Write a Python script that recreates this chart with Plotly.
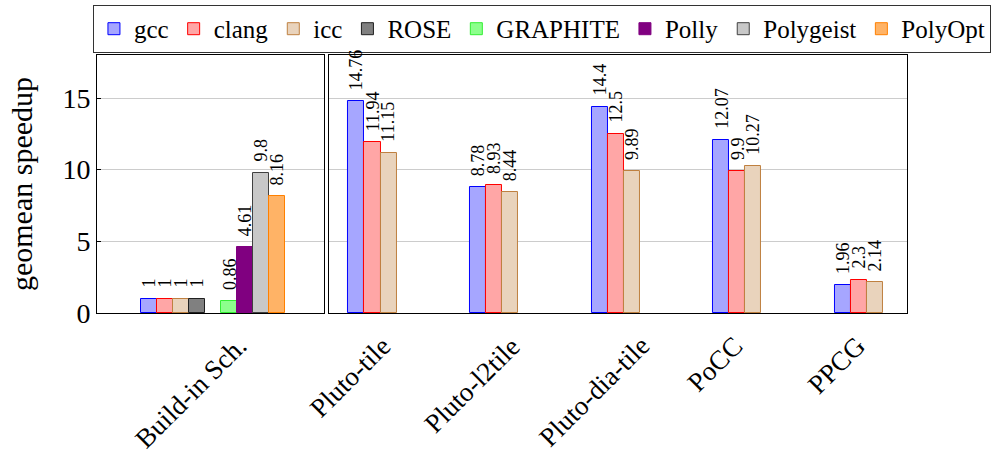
import plotly.graph_objects as go
from plotly.subplots import make_subplots

# ---------------- data ----------------
builtin_label = "Build-in Sch."
builtin_series = ["gcc", "clang", "icc", "ROSE", "GRAPHITE", "Polly", "Polygeist", "PolyOpt"]
builtin_values = [1, 1, 1, 1, 0.86, 4.61, 9.8, 8.16]

tools = ["Pluto-tile", "Pluto-l2tile", "Pluto-dia-tile", "PoCC", "PPCG"]
gcc = [14.76, 8.78, 14.4, 12.07, 1.96]
clang = [11.94, 8.93, 12.5, 9.9, 2.3]
icc = [11.15, 8.44, 9.89, 10.27, 2.14]

y_ticks = [0, 5, 10, 15]
y_title = "geomean speedup"

# ---------------- styles ----------------
FONT = "'Liberation Serif', 'Times New Roman', 'DejaVu Serif', serif"
fills = {"gcc": "#a6a6ff", "clang": "#ffa6a6", "icc": "#e9d3bc", "ROSE": "#808080",
         "GRAPHITE": "#8cff8c", "Polly": "#800080", "Polygeist": "#c8c8c8", "PolyOpt": "#ffb366"}
strokes = {"gcc": "#0000ff", "clang": "#ff0000", "icc": "#bf8040", "ROSE": "#202020",
           "GRAPHITE": "#33ee33", "Polly": "#800080", "Polygeist": "#404040", "PolyOpt": "#ff8000"}

W_LEFT = 0.0704      # bar width in left subplot (category units)
W_RIGHT = 0.1319     # bar width in right subplot
left_slots = [0, 1, 2, 3, 5, 6, 7, 8]   # slot 4 left empty (gap)

fig = make_subplots(rows=1, cols=2, horizontal_spacing=0.0, shared_yaxes=False)

annotations = []
val_font = dict(family=FONT, size=18, color="black")

def fmt(v):
    return f"{v:g}"

# left subplot: all 8 series at the built-in scheduler category
for name, v, slot in zip(builtin_series, builtin_values, left_slots):
    off = (slot - 4.5) * W_LEFT
    fig.add_trace(go.Bar(
        x=[builtin_label], y=[v], name=name, legendgroup=name,
        offset=off, width=W_LEFT,
        marker=dict(color=fills[name], line=dict(color=strokes[name], width=1)),
        showlegend=True,
    ), row=1, col=1)
    annotations.append(dict(
        x=0 + off + W_LEFT / 2, y=v, xref="x", yref="y", text=fmt(v),
        textangle=-90, xanchor="center", yanchor="bottom", yshift=9,
        showarrow=False, font=val_font))

# right subplot: gcc / clang / icc on the polyhedral tools
for name, vals, k in zip(["gcc", "clang", "icc"], [gcc, clang, icc], [0, 1, 2]):
    off = (k - 1.5) * W_RIGHT
    fig.add_trace(go.Bar(
        x=tools, y=vals, name=name, legendgroup=name,
        offset=off, width=W_RIGHT,
        marker=dict(color=fills[name], line=dict(color=strokes[name], width=1)),
        showlegend=False,
    ), row=1, col=2)
    for i, v in enumerate(vals):
        annotations.append(dict(
            x=i + off + W_RIGHT / 2, y=v, xref="x2", yref="y2", text=fmt(v),
            textangle=-90, xanchor="center", yanchor="bottom", yshift=9,
            showarrow=False, font=val_font))

# rotated category labels
lab_font = dict(family=FONT, size=27, color="black")
for xref, cats in (("x", [builtin_label]), ("x2", tools)):
    for i, c in enumerate(cats):
        annotations.append(dict(
            x=i, y=-0.058, xref=xref, yref="paper", text=c, textangle=-45,
            xanchor="center", yanchor="top", xshift=-22, showarrow=False, font=lab_font))

axis_common = dict(showline=True, linecolor="black", linewidth=1, mirror=True,
                   showticklabels=False, ticks="", showgrid=False, zeroline=False)

fig.update_layout(
    width=997, height=454,
    margin=dict(l=97, r=90, t=55, b=141, autoexpand=False),
    paper_bgcolor="white", plot_bgcolor="white",
    barmode="overlay", bargap=0,
    font=dict(family=FONT, size=26, color="black"),
    xaxis=dict(domain=[0, 0.2806], range=[-0.512, 0.488], **axis_common),
    xaxis2=dict(domain=[0.2864, 1.0], range=[-0.3574, 4.3944], **axis_common),
    yaxis=dict(range=[0, 18], tickvals=y_ticks, showline=True, linecolor="black",
               linewidth=1, mirror=True, ticks="inside", ticklen=4, tickcolor="black",
               showgrid=True, gridcolor="#cccccc", gridwidth=1, zeroline=False,
               tickfont=dict(family=FONT, size=28, color="black"),
               title=dict(text=y_title, font=dict(family=FONT, size=30, color="black"), standoff=20)),
    yaxis2=dict(range=[0, 18], tickvals=y_ticks, showline=True, linecolor="black",
                linewidth=1, mirror=True, ticks="", showticklabels=False,
                showgrid=True, gridcolor="#cccccc", gridwidth=1, zeroline=False),
    legend=dict(orientation="h", x=-0.005, xanchor="left", y=1.194, yanchor="top",
                bgcolor="white", bordercolor="#333333", borderwidth=1,
                font=dict(family=FONT, size=25, color="black"),
                itemwidth=30, traceorder="normal"),
    annotations=annotations,
)

fig.write_html("out.html", config={"displayModeBar": False},
               post_script="document.body.style.margin='0';")
